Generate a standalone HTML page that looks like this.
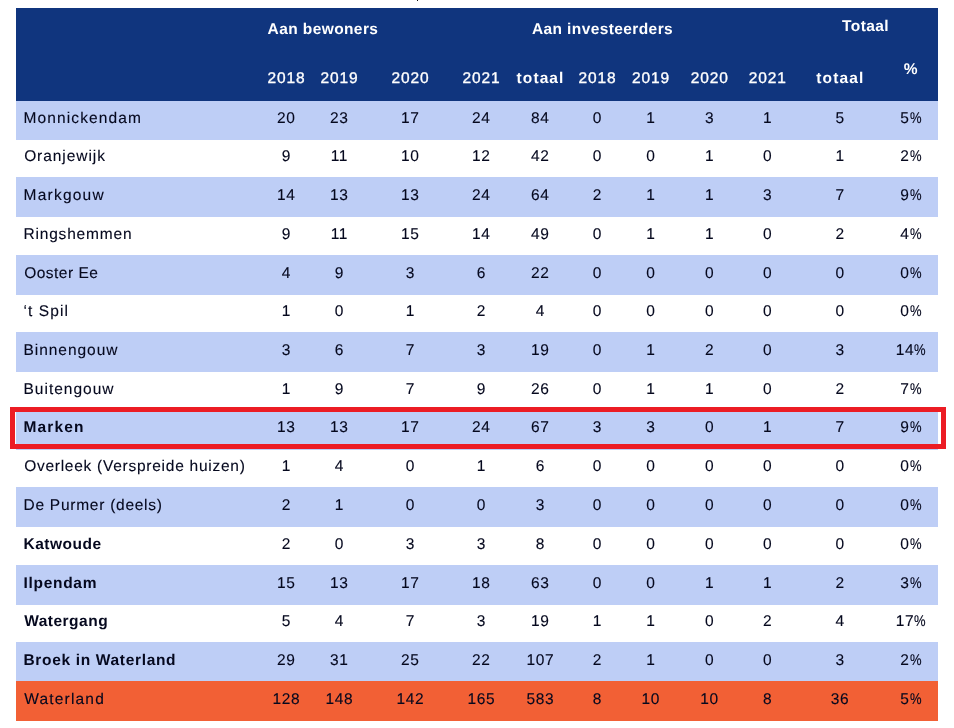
<!DOCTYPE html>
<html lang="nl"><head><meta charset="utf-8"><title>Waterland</title>
<style>
html,body{margin:0;padding:0;background:#fff;}
body{width:954px;height:728px;position:relative;overflow:hidden;text-rendering:geometricPrecision;font-family:"Liberation Sans",Arial,sans-serif;font-size:15.5px;color:#05081e;}
.bg{position:absolute;left:16px;width:922px;}
.hd{background:#10357e;top:8px;height:93px;}
.b{background:#becef6;}
.o{background:#f26035;}
.t{position:absolute;white-space:nowrap;-webkit-text-stroke:0.12px currentColor;line-height:20px;height:20px;}
.l{left:23px;letter-spacing:0.5px;}
.n{width:80px;text-align:center;letter-spacing:0.6px;}
.n span{margin-right:-0.6px;}
.w{color:#fff;}
.n i{font-style:normal;display:inline-block;transform:scaleX(0.84);transform-origin:0 50%;margin-right:-2.2px;}
.bd{font-weight:bold;-webkit-text-stroke:0;}
.red{position:absolute;left:10px;top:407px;width:926px;height:32px;border:5px solid #ec1c24;}
.dot{position:absolute;left:416.5px;top:0;width:1.5px;height:1px;background:#111;}
</style></head><body>
<div class="dot"></div>
<div class="bg hd"></div>
<div class="bg b" style="top:101.0px;height:38.5px"></div>
<div class="bg b" style="top:177.0px;height:39.5px"></div>
<div class="bg b" style="top:255.0px;height:39.5px"></div>
<div class="bg b" style="top:332.0px;height:40.0px"></div>
<div class="bg b" style="top:410.5px;height:39.5px"></div>
<div class="bg b" style="top:487.3px;height:39.3px"></div>
<div class="bg b" style="top:565.0px;height:39.6px"></div>
<div class="bg b" style="top:642.0px;height:39.0px"></div>
<div class="bg o" style="top:681.0px;height:40.0px"></div>
<div class="red"></div>
<div class="t w bd" style="left:267.6px;top:19.80px;letter-spacing:0.4px;">Aan bewoners</div>
<div class="t w bd" style="left:531.9px;top:19.80px;letter-spacing:0.4px;">Aan investeerders</div>
<div class="t w bd" style="left:842.1px;top:16.80px;letter-spacing:0.4px;">Totaal</div>
<div class="t n w" style="left:246.0px;top:68.60px;font-size:15.5px;letter-spacing:0.9px;-webkit-text-stroke:0.35px #fff;"><span style="margin-right:-0.9px">2018</span></div>
<div class="t n w" style="left:299.0px;top:68.60px;font-size:15.5px;letter-spacing:0.9px;-webkit-text-stroke:0.35px #fff;"><span style="margin-right:-0.9px">2019</span></div>
<div class="t n w" style="left:370.0px;top:68.60px;font-size:15.5px;letter-spacing:0.9px;-webkit-text-stroke:0.35px #fff;"><span style="margin-right:-0.9px">2020</span></div>
<div class="t n w" style="left:441.0px;top:68.60px;font-size:15.5px;letter-spacing:0.9px;-webkit-text-stroke:0.35px #fff;"><span style="margin-right:-0.9px">2021</span></div>
<div class="t n w bd" style="left:500.0px;top:68.60px;letter-spacing:1.1px;"><span style="margin-right:-1.1px">totaal</span></div>
<div class="t n w" style="left:557.0px;top:68.60px;font-size:15.5px;letter-spacing:0.9px;-webkit-text-stroke:0.35px #fff;"><span style="margin-right:-0.9px">2018</span></div>
<div class="t n w" style="left:610.5px;top:68.60px;font-size:15.5px;letter-spacing:0.9px;-webkit-text-stroke:0.35px #fff;"><span style="margin-right:-0.9px">2019</span></div>
<div class="t n w" style="left:669.3px;top:68.60px;font-size:15.5px;letter-spacing:0.9px;-webkit-text-stroke:0.35px #fff;"><span style="margin-right:-0.9px">2020</span></div>
<div class="t n w" style="left:727.3px;top:68.60px;font-size:15.5px;letter-spacing:0.9px;-webkit-text-stroke:0.35px #fff;"><span style="margin-right:-0.9px">2021</span></div>
<div class="t n w bd" style="left:799.8px;top:68.60px;letter-spacing:1.1px;"><span style="margin-right:-1.1px">totaal</span></div>
<div class="t n w bd" style="left:870.7px;top:60.10px;"><span>%</span></div>
<div class="t l" id="r0" style="top:109.00px;left:23.50px;letter-spacing:1.12px">Monnickendam</div>
<div class="t n " style="left:246.0px;top:109.00px;"><span>20</span></div>
<div class="t n " style="left:299.0px;top:109.00px;"><span>23</span></div>
<div class="t n " style="left:370.0px;top:109.00px;"><span>17</span></div>
<div class="t n " style="left:441.0px;top:109.00px;"><span>24</span></div>
<div class="t n " style="left:500.0px;top:109.00px;"><span>84</span></div>
<div class="t n " style="left:557.0px;top:109.00px;"><span>0</span></div>
<div class="t n " style="left:610.5px;top:109.00px;"><span>1</span></div>
<div class="t n " style="left:669.3px;top:109.00px;"><span>3</span></div>
<div class="t n " style="left:727.3px;top:109.00px;"><span>1</span></div>
<div class="t n " style="left:799.8px;top:109.00px;"><span>5</span></div>
<div class="t n " style="left:870.7px;top:109.00px;"><span>5<i>%</i></span></div>
<div class="t l" id="r1" style="top:147.00px;left:24.13px;letter-spacing:0.94px">Oranjewijk</div>
<div class="t n " style="left:246.0px;top:147.00px;"><span>9</span></div>
<div class="t n " style="left:299.0px;top:147.00px;"><span>11</span></div>
<div class="t n " style="left:370.0px;top:147.00px;"><span>10</span></div>
<div class="t n " style="left:441.0px;top:147.00px;"><span>12</span></div>
<div class="t n " style="left:500.0px;top:147.00px;"><span>42</span></div>
<div class="t n " style="left:557.0px;top:147.00px;"><span>0</span></div>
<div class="t n " style="left:610.5px;top:147.00px;"><span>0</span></div>
<div class="t n " style="left:669.3px;top:147.00px;"><span>1</span></div>
<div class="t n " style="left:727.3px;top:147.00px;"><span>0</span></div>
<div class="t n " style="left:799.8px;top:147.00px;"><span>1</span></div>
<div class="t n " style="left:870.7px;top:147.00px;"><span>2<i>%</i></span></div>
<div class="t l" id="r2" style="top:186.00px;left:23.50px;letter-spacing:1.24px">Markgouw</div>
<div class="t n " style="left:246.0px;top:186.00px;"><span>14</span></div>
<div class="t n " style="left:299.0px;top:186.00px;"><span>13</span></div>
<div class="t n " style="left:370.0px;top:186.00px;"><span>13</span></div>
<div class="t n " style="left:441.0px;top:186.00px;"><span>24</span></div>
<div class="t n " style="left:500.0px;top:186.00px;"><span>64</span></div>
<div class="t n " style="left:557.0px;top:186.00px;"><span>2</span></div>
<div class="t n " style="left:610.5px;top:186.00px;"><span>1</span></div>
<div class="t n " style="left:669.3px;top:186.00px;"><span>1</span></div>
<div class="t n " style="left:727.3px;top:186.00px;"><span>3</span></div>
<div class="t n " style="left:799.8px;top:186.00px;"><span>7</span></div>
<div class="t n " style="left:870.7px;top:186.00px;"><span>9<i>%</i></span></div>
<div class="t l" id="r3" style="top:225.00px;left:23.50px;letter-spacing:0.81px">Ringshemmen</div>
<div class="t n " style="left:246.0px;top:225.00px;"><span>9</span></div>
<div class="t n " style="left:299.0px;top:225.00px;"><span>11</span></div>
<div class="t n " style="left:370.0px;top:225.00px;"><span>15</span></div>
<div class="t n " style="left:441.0px;top:225.00px;"><span>14</span></div>
<div class="t n " style="left:500.0px;top:225.00px;"><span>49</span></div>
<div class="t n " style="left:557.0px;top:225.00px;"><span>0</span></div>
<div class="t n " style="left:610.5px;top:225.00px;"><span>1</span></div>
<div class="t n " style="left:669.3px;top:225.00px;"><span>1</span></div>
<div class="t n " style="left:727.3px;top:225.00px;"><span>0</span></div>
<div class="t n " style="left:799.8px;top:225.00px;"><span>2</span></div>
<div class="t n " style="left:870.7px;top:225.00px;"><span>4<i>%</i></span></div>
<div class="t l" id="r4" style="top:264.00px;left:24.13px;letter-spacing:0.50px">Ooster Ee</div>
<div class="t n " style="left:246.0px;top:264.00px;"><span>4</span></div>
<div class="t n " style="left:299.0px;top:264.00px;"><span>9</span></div>
<div class="t n " style="left:370.0px;top:264.00px;"><span>3</span></div>
<div class="t n " style="left:441.0px;top:264.00px;"><span>6</span></div>
<div class="t n " style="left:500.0px;top:264.00px;"><span>22</span></div>
<div class="t n " style="left:557.0px;top:264.00px;"><span>0</span></div>
<div class="t n " style="left:610.5px;top:264.00px;"><span>0</span></div>
<div class="t n " style="left:669.3px;top:264.00px;"><span>0</span></div>
<div class="t n " style="left:727.3px;top:264.00px;"><span>0</span></div>
<div class="t n " style="left:799.8px;top:264.00px;"><span>0</span></div>
<div class="t n " style="left:870.7px;top:264.00px;"><span>0<i>%</i></span></div>
<div class="t l" id="r5" style="top:302.00px;left:23.50px;letter-spacing:1.08px">‘t Spil</div>
<div class="t n " style="left:246.0px;top:302.00px;"><span>1</span></div>
<div class="t n " style="left:299.0px;top:302.00px;"><span>0</span></div>
<div class="t n " style="left:370.0px;top:302.00px;"><span>1</span></div>
<div class="t n " style="left:441.0px;top:302.00px;"><span>2</span></div>
<div class="t n " style="left:500.0px;top:302.00px;"><span>4</span></div>
<div class="t n " style="left:557.0px;top:302.00px;"><span>0</span></div>
<div class="t n " style="left:610.5px;top:302.00px;"><span>0</span></div>
<div class="t n " style="left:669.3px;top:302.00px;"><span>0</span></div>
<div class="t n " style="left:727.3px;top:302.00px;"><span>0</span></div>
<div class="t n " style="left:799.8px;top:302.00px;"><span>0</span></div>
<div class="t n " style="left:870.7px;top:302.00px;"><span>0<i>%</i></span></div>
<div class="t l" id="r6" style="top:341.00px;left:23.50px;letter-spacing:0.96px">Binnengouw</div>
<div class="t n " style="left:246.0px;top:341.00px;"><span>3</span></div>
<div class="t n " style="left:299.0px;top:341.00px;"><span>6</span></div>
<div class="t n " style="left:370.0px;top:341.00px;"><span>7</span></div>
<div class="t n " style="left:441.0px;top:341.00px;"><span>3</span></div>
<div class="t n " style="left:500.0px;top:341.00px;"><span>19</span></div>
<div class="t n " style="left:557.0px;top:341.00px;"><span>0</span></div>
<div class="t n " style="left:610.5px;top:341.00px;"><span>1</span></div>
<div class="t n " style="left:669.3px;top:341.00px;"><span>2</span></div>
<div class="t n " style="left:727.3px;top:341.00px;"><span>0</span></div>
<div class="t n " style="left:799.8px;top:341.00px;"><span>3</span></div>
<div class="t n " style="left:870.7px;top:341.00px;"><span>14<i>%</i></span></div>
<div class="t l" id="r7" style="top:380.00px;left:23.50px;letter-spacing:1.00px">Buitengouw</div>
<div class="t n " style="left:246.0px;top:380.00px;"><span>1</span></div>
<div class="t n " style="left:299.0px;top:380.00px;"><span>9</span></div>
<div class="t n " style="left:370.0px;top:380.00px;"><span>7</span></div>
<div class="t n " style="left:441.0px;top:380.00px;"><span>9</span></div>
<div class="t n " style="left:500.0px;top:380.00px;"><span>26</span></div>
<div class="t n " style="left:557.0px;top:380.00px;"><span>0</span></div>
<div class="t n " style="left:610.5px;top:380.00px;"><span>1</span></div>
<div class="t n " style="left:669.3px;top:380.00px;"><span>1</span></div>
<div class="t n " style="left:727.3px;top:380.00px;"><span>0</span></div>
<div class="t n " style="left:799.8px;top:380.00px;"><span>2</span></div>
<div class="t n " style="left:870.7px;top:380.00px;"><span>7<i>%</i></span></div>
<div class="t l bd" id="r8" style="top:418.00px;left:23.50px;letter-spacing:1.14px">Marken</div>
<div class="t n " style="left:246.0px;top:418.00px;"><span>13</span></div>
<div class="t n " style="left:299.0px;top:418.00px;"><span>13</span></div>
<div class="t n " style="left:370.0px;top:418.00px;"><span>17</span></div>
<div class="t n " style="left:441.0px;top:418.00px;"><span>24</span></div>
<div class="t n " style="left:500.0px;top:418.00px;"><span>67</span></div>
<div class="t n " style="left:557.0px;top:418.00px;"><span>3</span></div>
<div class="t n " style="left:610.5px;top:418.00px;"><span>3</span></div>
<div class="t n " style="left:669.3px;top:418.00px;"><span>0</span></div>
<div class="t n " style="left:727.3px;top:418.00px;"><span>1</span></div>
<div class="t n " style="left:799.8px;top:418.00px;"><span>7</span></div>
<div class="t n " style="left:870.7px;top:418.00px;"><span>9<i>%</i></span></div>
<div class="t l" id="r9" style="top:457.00px;left:24.13px;letter-spacing:0.74px">Overleek (Verspreide huizen)</div>
<div class="t n " style="left:246.0px;top:457.00px;"><span>1</span></div>
<div class="t n " style="left:299.0px;top:457.00px;"><span>4</span></div>
<div class="t n " style="left:370.0px;top:457.00px;"><span>0</span></div>
<div class="t n " style="left:441.0px;top:457.00px;"><span>1</span></div>
<div class="t n " style="left:500.0px;top:457.00px;"><span>6</span></div>
<div class="t n " style="left:557.0px;top:457.00px;"><span>0</span></div>
<div class="t n " style="left:610.5px;top:457.00px;"><span>0</span></div>
<div class="t n " style="left:669.3px;top:457.00px;"><span>0</span></div>
<div class="t n " style="left:727.3px;top:457.00px;"><span>0</span></div>
<div class="t n " style="left:799.8px;top:457.00px;"><span>0</span></div>
<div class="t n " style="left:870.7px;top:457.00px;"><span>0<i>%</i></span></div>
<div class="t l" id="r10" style="top:496.00px;left:23.50px;letter-spacing:0.74px">De Purmer (deels)</div>
<div class="t n " style="left:246.0px;top:496.00px;"><span>2</span></div>
<div class="t n " style="left:299.0px;top:496.00px;"><span>1</span></div>
<div class="t n " style="left:370.0px;top:496.00px;"><span>0</span></div>
<div class="t n " style="left:441.0px;top:496.00px;"><span>0</span></div>
<div class="t n " style="left:500.0px;top:496.00px;"><span>3</span></div>
<div class="t n " style="left:557.0px;top:496.00px;"><span>0</span></div>
<div class="t n " style="left:610.5px;top:496.00px;"><span>0</span></div>
<div class="t n " style="left:669.3px;top:496.00px;"><span>0</span></div>
<div class="t n " style="left:727.3px;top:496.00px;"><span>0</span></div>
<div class="t n " style="left:799.8px;top:496.00px;"><span>0</span></div>
<div class="t n " style="left:870.7px;top:496.00px;"><span>0<i>%</i></span></div>
<div class="t l bd" id="r11" style="top:535.00px;left:23.50px;letter-spacing:0.50px">Katwoude</div>
<div class="t n " style="left:246.0px;top:535.00px;"><span>2</span></div>
<div class="t n " style="left:299.0px;top:535.00px;"><span>0</span></div>
<div class="t n " style="left:370.0px;top:535.00px;"><span>3</span></div>
<div class="t n " style="left:441.0px;top:535.00px;"><span>3</span></div>
<div class="t n " style="left:500.0px;top:535.00px;"><span>8</span></div>
<div class="t n " style="left:557.0px;top:535.00px;"><span>0</span></div>
<div class="t n " style="left:610.5px;top:535.00px;"><span>0</span></div>
<div class="t n " style="left:669.3px;top:535.00px;"><span>0</span></div>
<div class="t n " style="left:727.3px;top:535.00px;"><span>0</span></div>
<div class="t n " style="left:799.8px;top:535.00px;"><span>0</span></div>
<div class="t n " style="left:870.7px;top:535.00px;"><span>0<i>%</i></span></div>
<div class="t l bd" id="r12" style="top:574.00px;left:23.50px;letter-spacing:0.70px">Ilpendam</div>
<div class="t n " style="left:246.0px;top:574.00px;"><span>15</span></div>
<div class="t n " style="left:299.0px;top:574.00px;"><span>13</span></div>
<div class="t n " style="left:370.0px;top:574.00px;"><span>17</span></div>
<div class="t n " style="left:441.0px;top:574.00px;"><span>18</span></div>
<div class="t n " style="left:500.0px;top:574.00px;"><span>63</span></div>
<div class="t n " style="left:557.0px;top:574.00px;"><span>0</span></div>
<div class="t n " style="left:610.5px;top:574.00px;"><span>0</span></div>
<div class="t n " style="left:669.3px;top:574.00px;"><span>1</span></div>
<div class="t n " style="left:727.3px;top:574.00px;"><span>1</span></div>
<div class="t n " style="left:799.8px;top:574.00px;"><span>2</span></div>
<div class="t n " style="left:870.7px;top:574.00px;"><span>3<i>%</i></span></div>
<div class="t l bd" id="r13" style="top:612.00px;left:24.13px;letter-spacing:0.50px">Watergang</div>
<div class="t n " style="left:246.0px;top:612.00px;"><span>5</span></div>
<div class="t n " style="left:299.0px;top:612.00px;"><span>4</span></div>
<div class="t n " style="left:370.0px;top:612.00px;"><span>7</span></div>
<div class="t n " style="left:441.0px;top:612.00px;"><span>3</span></div>
<div class="t n " style="left:500.0px;top:612.00px;"><span>19</span></div>
<div class="t n " style="left:557.0px;top:612.00px;"><span>1</span></div>
<div class="t n " style="left:610.5px;top:612.00px;"><span>1</span></div>
<div class="t n " style="left:669.3px;top:612.00px;"><span>0</span></div>
<div class="t n " style="left:727.3px;top:612.00px;"><span>2</span></div>
<div class="t n " style="left:799.8px;top:612.00px;"><span>4</span></div>
<div class="t n " style="left:870.7px;top:612.00px;"><span>17<i>%</i></span></div>
<div class="t l bd" id="r14" style="top:651.00px;left:23.50px;letter-spacing:0.67px">Broek in Waterland</div>
<div class="t n " style="left:246.0px;top:651.00px;"><span>29</span></div>
<div class="t n " style="left:299.0px;top:651.00px;"><span>31</span></div>
<div class="t n " style="left:370.0px;top:651.00px;"><span>25</span></div>
<div class="t n " style="left:441.0px;top:651.00px;"><span>22</span></div>
<div class="t n " style="left:500.0px;top:651.00px;"><span>107</span></div>
<div class="t n " style="left:557.0px;top:651.00px;"><span>2</span></div>
<div class="t n " style="left:610.5px;top:651.00px;"><span>1</span></div>
<div class="t n " style="left:669.3px;top:651.00px;"><span>0</span></div>
<div class="t n " style="left:727.3px;top:651.00px;"><span>0</span></div>
<div class="t n " style="left:799.8px;top:651.00px;"><span>3</span></div>
<div class="t n " style="left:870.7px;top:651.00px;"><span>2<i>%</i></span></div>
<div class="t l" id="r15" style="top:690.00px;left:24.13px;letter-spacing:1.20px">Waterland</div>
<div class="t n " style="left:246.0px;top:690.00px;"><span>128</span></div>
<div class="t n " style="left:299.0px;top:690.00px;"><span>148</span></div>
<div class="t n " style="left:370.0px;top:690.00px;"><span>142</span></div>
<div class="t n " style="left:441.0px;top:690.00px;"><span>165</span></div>
<div class="t n " style="left:500.0px;top:690.00px;"><span>583</span></div>
<div class="t n " style="left:557.0px;top:690.00px;"><span>8</span></div>
<div class="t n " style="left:610.5px;top:690.00px;"><span>10</span></div>
<div class="t n " style="left:669.3px;top:690.00px;"><span>10</span></div>
<div class="t n " style="left:727.3px;top:690.00px;"><span>8</span></div>
<div class="t n " style="left:799.8px;top:690.00px;"><span>36</span></div>
<div class="t n " style="left:870.7px;top:690.00px;"><span>5<i>%</i></span></div>
</body></html>
